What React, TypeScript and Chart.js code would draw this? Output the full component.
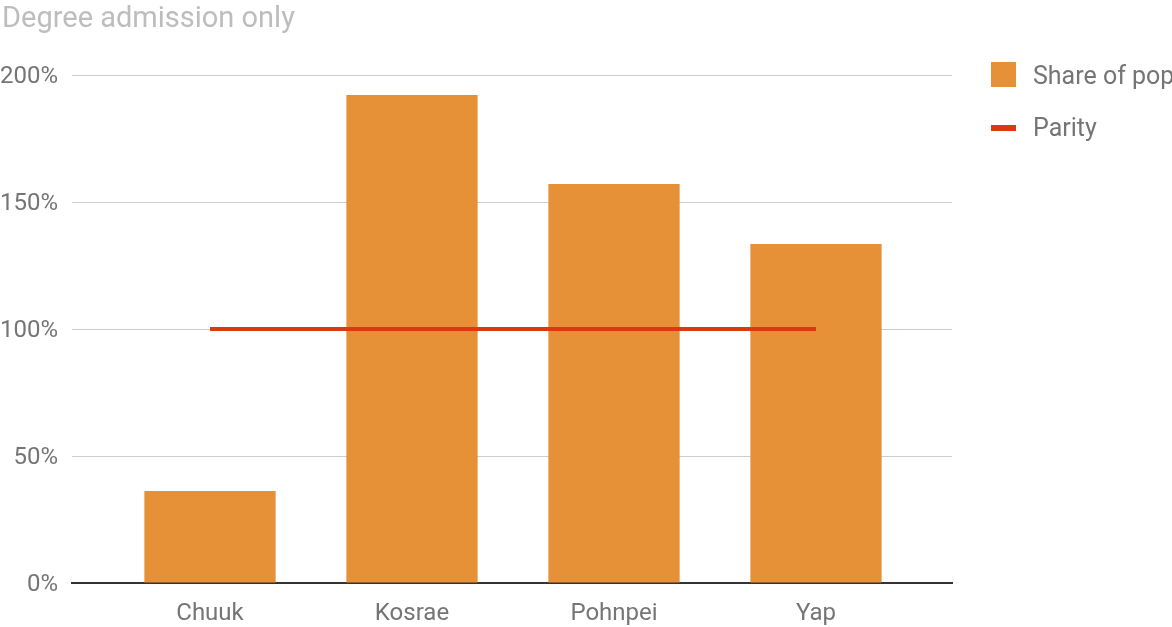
import React, { useEffect, useRef } from "react";
import { Chart, registerables } from "chart.js";

Chart.register(...registerables);

const TITLE = "Degree admission only";
const CATEGORIES = ["Chuuk", "Kosrae", "Pohnpei", "Yap"];
const SHARE_OF_POP = [36.2, 192.1, 157.1, 133.5];
const PARITY = [100, 100, 100, 100];
const Y_TICKS = [0, 50, 100, 150, 200];
const SERIES_NAMES = ["Share of pop", "Parity"];

const BAR_COLOR = "#e69138";
const LINE_COLOR = "#dc3912";
const FONT = "Roboto";

const overlayPlugin = {
  id: "overlay",
  afterDraw(chart: any) {
    const ctx = chart.ctx;
    ctx.save();
    // title
    ctx.fillStyle = "#bdbdbd";
    ctx.font = `29px ${FONT}`;
    ctx.textAlign = "left";
    ctx.textBaseline = "alphabetic";
    ctx.fillText(TITLE, 2, 27);
    // legend
    ctx.font = `25px ${FONT}`;
    ctx.textBaseline = "middle";
    ctx.fillStyle = BAR_COLOR;
    ctx.fillRect(991, 62, 25, 25);
    ctx.fillStyle = "#757575";
    ctx.fillText(SERIES_NAMES[0], 1033, 78);
    ctx.fillStyle = LINE_COLOR;
    ctx.fillRect(991, 125, 25, 6);
    ctx.fillStyle = "#757575";
    ctx.fillText(SERIES_NAMES[1], 1033, 130);
    ctx.restore();
  },
};

export default function App() {
  const ref = useRef<HTMLCanvasElement>(null);
  useEffect(() => {
    document.body.style.margin = "0";
    const chart = new Chart(ref.current!, {
      type: "bar",
      data: {
        datasets: [
          {
            type: "bar",
            label: SERIES_NAMES[0],
            data: CATEGORIES.map((_, i) => ({ x: i, y: SHARE_OF_POP[i] })),
            backgroundColor: BAR_COLOR,
            categoryPercentage: 1,
            barPercentage: 0.65,
            order: 2,
          } as any,
          {
            type: "line",
            label: SERIES_NAMES[1],
            data: CATEGORIES.map((_, i) => ({ x: i, y: PARITY[i] })),
            borderColor: LINE_COLOR,
            borderWidth: 4,
            pointRadius: 0,
            fill: false,
            order: 1,
          } as any,
        ],
      },
      options: {
        animation: false,
        responsive: false,
        layout: { padding: { top: 75, right: 220, left: 0, bottom: 0 } },
        plugins: {
          legend: { display: false },
          title: { display: false },
          tooltip: { enabled: false },
        },
        scales: {
          x: {
            type: "linear",
            offset: false,
            min: -0.6832,
            max: 3.6733,
            afterBuildTicks: (scale: any) => {
              scale.ticks = CATEGORIES.map((_, i) => ({ value: i }));
            },
            afterFit: (scale: any) => {
              scale.height = 44;
            },
            ticks: {
              callback: (v: any) => CATEGORIES[Math.round(Number(v))] ?? "",
              color: "#757575",
              font: { family: FONT, size: 24 },
              padding: 17,
              maxRotation: 0,
              autoSkip: false,
            },
            grid: { display: false, drawTicks: false },
            border: { display: true, color: "#333333", width: 2 },
          },
          y: {
            min: 0,
            max: 200,
            afterBuildTicks: (scale: any) => {
              scale.ticks = Y_TICKS.map((v) => ({ value: v }));
            },
            afterFit: (scale: any) => {
              scale.width = 72;
            },
            ticks: {
              callback: (v: any) => `${v}%`,
              color: "#757575",
              font: { family: FONT, size: 24 },
              padding: 14,
              labelOffset: 2,
            },
            grid: { color: "#cccccc", lineWidth: 1, drawTicks: false },
            border: { display: false },
          },
        },
      },
      plugins: [overlayPlugin],
    });
    return () => chart.destroy();
  }, []);
  return (
    <div style={{ position: "absolute", left: 0, top: 0, width: 1172, height: 627, background: "#fff" }}>
      <canvas ref={ref} width={1172} height={627} />
    </div>
  );
}
